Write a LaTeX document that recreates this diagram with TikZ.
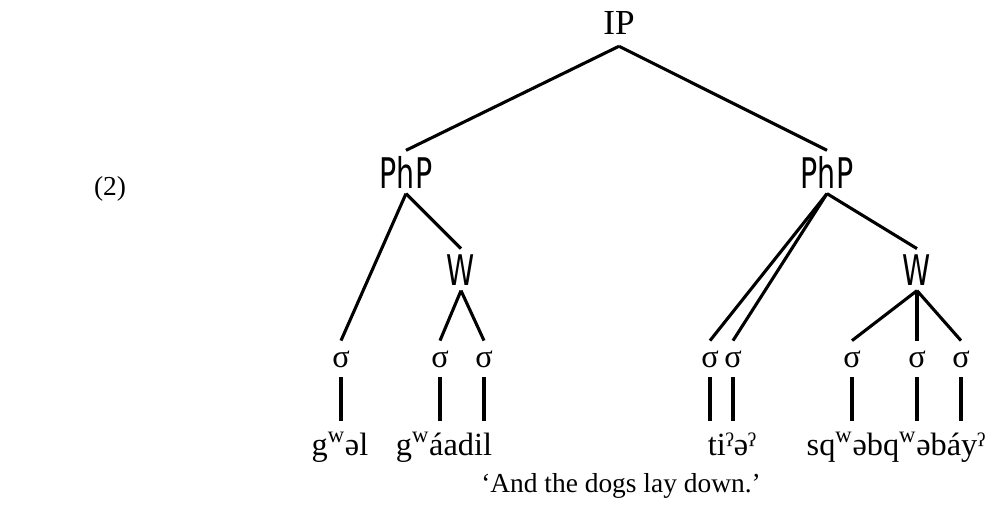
\documentclass[tikz,border=0pt]{standalone}
\usepackage{graphicx}
\usepackage{fontspec}
\setmainfont{Liberation Serif}
\newfontfamily\catfont{DejaVu Sans Condensed}
\newcommand\narrowcat[1]{\scalebox{0.75}[1]{#1}}

\begin{document}
\begin{tikzpicture}[x=0.025cm, y=-0.025cm,
  branch/.style={line width=2.2pt},
  ipnode/.style={inner sep=0pt, outer sep=8pt, anchor=base, font=\fontsize{25}{28}\selectfont},
  catnode/.style={inner sep=0pt, outer sep=4pt, anchor=base, font=\catfont\fontsize{30}{31}\selectfont},
  sylnode/.style={inner sep=0pt, outer sep=7pt, anchor=base, font=\fontsize{23}{26}\selectfont},
  wordnode/.style={inner sep=0pt, anchor=base, font=\fontsize{23}{26}\selectfont},
  glossnode/.style={inner sep=0pt, anchor=base, font=\fontsize{19.5}{22}\selectfont}]
  \useasboundingbox (0,0) rectangle (993,519);

  % Nummer und Wurzel
  \node[glossnode] (ex) at (110,195) {(2)};
  \node[ipnode] (ip) at (619,35) {IP};

  % Phrasen und Woerter
  \node[catnode] (php1) at (406,188) {\narrowcat{PhP}};
  \node[catnode] (php2) at (827,188) {\narrowcat{PhP}};
  \node[catnode] (wd1) at (461,285) {\narrowcat{W}};
  \node[catnode] (wd2) at (917,285) {\narrowcat{W}};

  % Silben
  \node[sylnode] (s1) at (341,367) {σ};
  \node[sylnode] (s2) at (440,367) {σ};
  \node[sylnode] (s3) at (484,367) {σ};
  \node[sylnode] (s4) at (710,367) {σ};
  \node[sylnode] (s5) at (733,367) {σ};
  \node[sylnode] (s6) at (852,367) {σ};
  \node[sylnode] (s7) at (917,367) {σ};
  \node[sylnode] (s8) at (961,367) {σ};

  % Segmentzeile und Uebersetzung
  \coordinate (wtop) at (0,421);
  \node[wordnode] (w1) at (340,455) {g\textsuperscript{w}əl};
  \node[wordnode] (w2) at (444,455) {g\textsuperscript{w}áadil};
  \node[wordnode] (w3) at (732,455) {tiˀəˀ};
  \node[wordnode] (w4) at (896,455) {sq\textsuperscript{w}əbq\textsuperscript{w}əbáyˀ};
  \node[glossnode] (gloss) at (621,492) {‘And the dogs lay down.’};

  % Aeste
  \draw[branch] (ip.south) -- (php1.north);
  \draw[branch] (ip.south) -- (php2.north);
  \draw[branch] (php1.south) -- (s1.north);
  \draw[branch] (php1.south) -- (wd1.north);
  \draw[branch] (wd1.south) -- (s2.north);
  \draw[branch] (wd1.south) -- (s3.north);
  \draw[branch] (php2.south) -- (s4.north);
  \draw[branch] (php2.south) -- (s5.north);
  \draw[branch] (php2.south) -- (wd2.north);
  \draw[branch] (wd2.south) -- (s6.north);
  \draw[branch] (wd2.south) -- (s7.north);
  \draw[branch] (wd2.south) -- (s8.north);

  % Assoziationslinien
  \foreach \s in {s1,s2,s3,s4,s5,s6,s7,s8}
    \draw[branch] (\s.south) -- (\s.south |- wtop);
\end{tikzpicture}
\end{document}
